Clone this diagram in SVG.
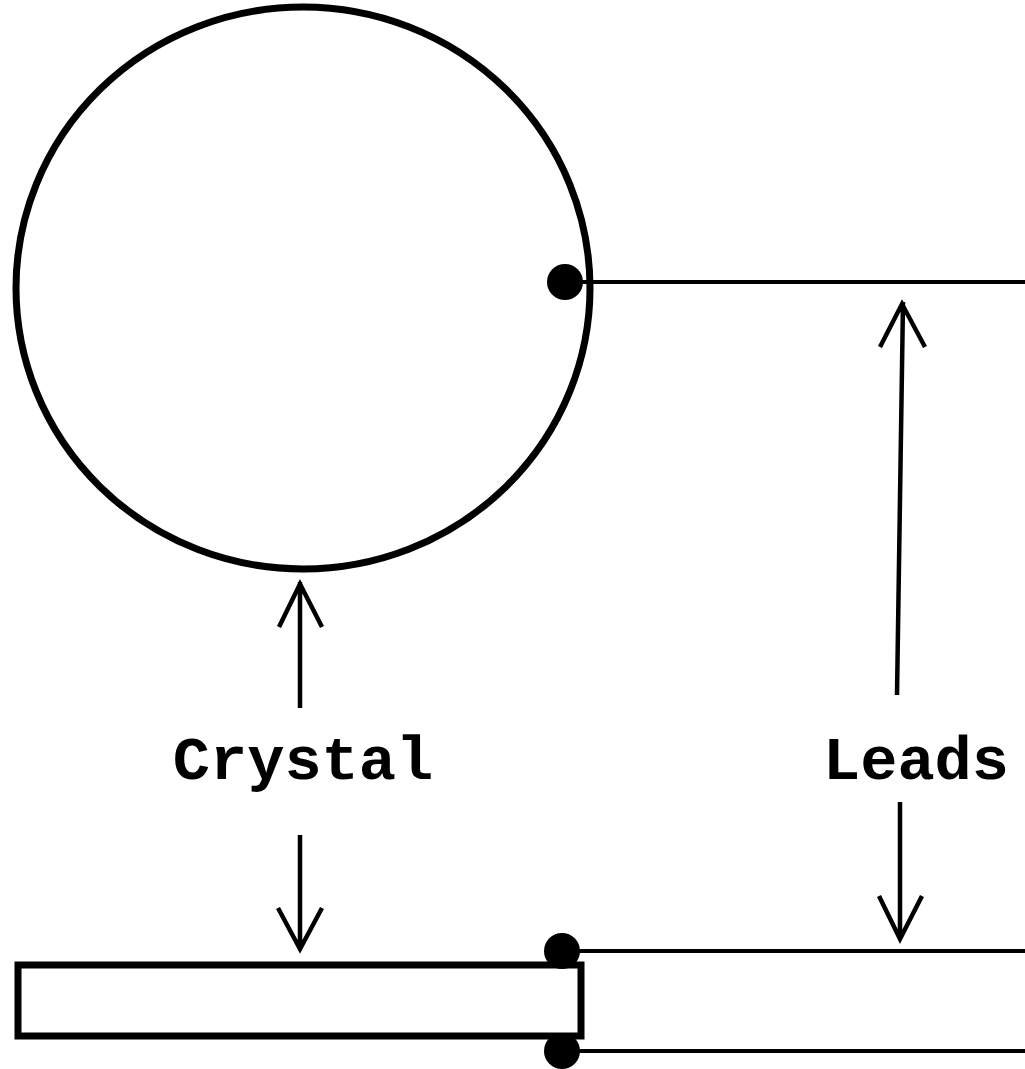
<svg xmlns="http://www.w3.org/2000/svg" width="1025" height="1069" viewBox="0 0 1025 1069">
<style>
.thick{fill:none;stroke:#000;stroke-width:7}
.line{fill:none;stroke:#000;stroke-width:4}
.arrow{fill:none;stroke:#000;stroke-width:4.5;stroke-linecap:butt;stroke-linejoin:miter}
.dot{fill:#000}
.lbl{font-family:"Liberation Mono","Courier New",monospace;font-weight:bold;font-size:62px;fill:#000;text-anchor:middle}
</style>
<rect width="1025" height="1069" fill="#fff"/>
<g id="crystal-circle">
<ellipse class="thick" cx="303" cy="288" rx="287" ry="281"/>
</g>
<g id="crystal-rect">
<rect class="thick" x="18" y="965" width="563" height="71"/>
</g>
<g id="leads">
<line class="line" x1="565" y1="282" x2="1025" y2="282"/>
<circle class="dot" cx="565" cy="282" r="18"/>
<line class="line" x1="562" y1="951" x2="1025" y2="951"/>
<circle class="dot" cx="562" cy="951" r="18"/>
<line class="line" x1="562" y1="1051" x2="1025" y2="1051"/>
<circle class="dot" cx="562" cy="1051" r="18"/>
</g>
<g id="label-crystal">
<text class="lbl" x="303" y="779">Crystal</text>
</g>
<g id="label-leads">
<text class="lbl" x="916" y="779">Leads</text>
</g>
<g id="connectors">
<path class="arrow" d="M300,708 L300,582 M279,627 L300,584 L322,627"/>
<path class="arrow" d="M300,835 L300,950 M278,908 L300,949 L322,908"/>
<path class="arrow" d="M897,695 L903,302 M880,347 L902,304 L925,347"/>
<path class="arrow" d="M900,802 L900,940 M879,896 L900,939 L922,896"/>
</g>
</svg>
